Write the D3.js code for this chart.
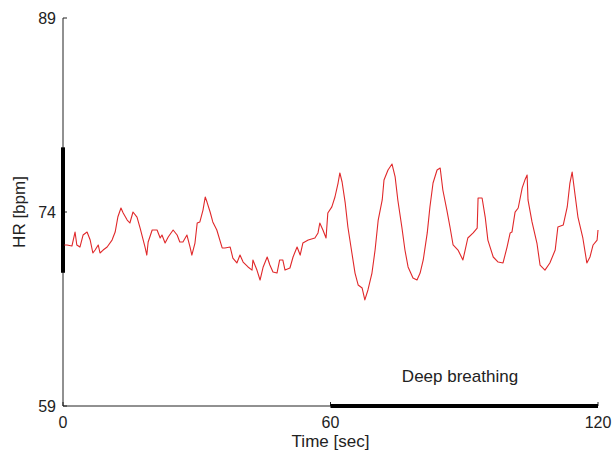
<!DOCTYPE html>
<html>
<head>
<meta charset="utf-8">
<script src="https://cdn.jsdelivr.net/npm/d3@7"></script>
<style>
body { margin: 0; background: #fff; }
text { font-family: "Liberation Sans", Arial, sans-serif; fill: #222; }
</style>
</head>
<body>
<div id="main"></div>
<script>
// heart rate trace (sec, bpm)
var time = [0.3,0.9,2.0,2.7,3.1,3.8,4.5,5.4,6.1,6.7,7.2,7.9,8.3,9.0,9.9,11.0,11.7,12.3,13.0,13.5,
  14.4,15.0,15.7,16.6,17.3,18.4,18.8,19.1,20.0,21.1,21.8,22.2,22.9,23.6,24.7,25.6,26.2,26.9,27.8,28.5,
  28.9,29.6,30.1,30.7,31.4,31.9,32.3,33.0,33.6,34.5,35.7,36.3,37.5,38.1,39.0,39.7,40.4,41.5,42.4,42.6,
  43.5,44.2,44.9,45.8,46.4,47.1,48.0,48.6,49.3,49.8,50.9,51.6,52.5,53.2,53.8,55.0,56.5,57.2,57.6,58.3,
  59.0,59.4,60.3,61.0,61.7,62.1,62.6,63.3,63.9,64.8,65.5,66.2,67.1,67.7,68.4,69.3,70.0,70.7,71.6,72.0,
  72.9,73.8,74.5,75.1,76.0,76.7,77.4,78.5,79.4,80.1,80.8,81.7,82.3,83.0,83.9,84.6,85.2,86.1,86.8,87.5,
  88.6,89.7,90.2,90.8,92.0,92.9,93.1,94.0,94.7,95.3,96.5,97.6,98.7,99.6,100.3,100.7,101.4,102.1,103.0,103.6,
  104.1,104.3,105.2,106.3,107.0,108.1,109.2,110.4,111.0,112.2,113.1,113.7,114.2,114.8,115.5,116.6,117.5,118.2,118.9,119.8,120.0];
var hr = [71.45,71.45,71.37,72.45,71.45,71.29,72.22,72.45,71.83,70.83,71.06,71.45,70.83,71.06,71.29,71.83,72.45,73.61,74.31,73.92,
  73.38,73.15,74.0,73.61,72.76,71.29,70.67,71.68,72.61,72.61,71.99,72.22,71.6,72.07,72.61,72.22,71.68,71.68,72.22,71.29,
  70.67,71.6,73.15,73.23,74.15,75.16,74.77,74.0,73.23,72.61,71.22,71.22,71.29,70.44,70.06,70.67,70.13,69.75,69.51,70.29,
  69.51,68.74,69.75,70.52,69.9,69.36,69.28,70.29,70.29,69.51,69.67,70.52,71.29,70.67,71.6,71.83,71.99,72.38,73.15,72.61,
  71.99,73.92,74.4,75.16,76.24,77.02,76.32,74.7,72.84,70.83,69.28,68.36,68.12,67.2,67.97,69.28,71.06,73.38,74.93,76.47,
  77.25,77.71,76.71,74.93,72.84,71.06,69.75,68.9,68.74,69.28,70.29,72.38,74.39,76.24,77.25,77.4,75.7,74.15,72.84,71.45,
  71.06,70.29,71.06,71.99,72.38,72.76,75.08,75.08,73.61,71.83,70.52,70.13,70.06,71.29,72.38,72.45,73.99,74.31,75.86,76.47,
  76.86,74.93,73.23,71.6,69.9,69.51,70.06,71.06,72.84,72.99,74.39,76.24,77.09,75.47,73.61,71.99,70.06,70.52,71.45,71.83,72.61];

var xTicks = [0, 60, 120];
var yTicks = [59, 74, 89];
var hrBand = [69.3, 79];      // thick bar on y axis
var breathing = [60, 120];    // deep breathing interval

var W = 616, H = 461;
var mLeft = 63, mRight = 598, mTop = 18, mBottom = 406;

var svg = d3.select('#main')
  .append('svg')
  .attr("width", W)
  .attr("height", H);

var x = d3.scaleLinear().domain([0,120]).range([mLeft,mRight]);
var y = d3.scaleLinear().domain([59,89]).range([mBottom,mTop]);

// axes lines
svg.append('line')
  .attr("x1", mLeft).attr("x2", mLeft)
  .attr("y1", mTop).attr("y2", mBottom)
  .style("stroke", "#222").style("stroke-width", 1);
svg.append('line')
  .attr("x1", mLeft).attr("x2", mRight)
  .attr("y1", mBottom).attr("y2", mBottom)
  .style("stroke", "#222").style("stroke-width", 1);

// ticks
svg.selectAll('.yt')
  .data(yTicks)
  .enter()
  .append('line')
  .attr("x1", mLeft).attr("x2", mLeft+4)
  .attr("y1", d=>y(d)).attr("y2", d=>y(d))
  .style("stroke", "#222");
svg.selectAll('.xt')
  .data(xTicks)
  .enter()
  .append('line')
  .attr("x1", d=>x(d)).attr("x2", d=>x(d))
  .attr("y1", mBottom).attr("y2", mBottom-4)
  .style("stroke", "#222");

// tick labels
svg.selectAll('.yl')
  .data(yTicks)
  .enter()
  .append('text')
  .text(d=>d)
  .attr("x", mLeft-7)
  .attr("y", d=>y(d)+6)
  .attr("text-anchor", "end")
  .style("font-size", "16px");
svg.selectAll('.xl')
  .data(xTicks)
  .enter()
  .append('text')
  .text(d=>d)
  .attr("x", d=>x(d))
  .attr("y", mBottom+22)
  .attr("text-anchor", "middle")
  .style("font-size", "16px");

// thick bars
svg.append('line')
  .attr("x1", mLeft).attr("x2", mLeft)
  .attr("y1", y(hrBand[0])).attr("y2", y(hrBand[1]))
  .style("stroke", "#000").style("stroke-width", 4);
svg.append('line')
  .attr("x1", x(breathing[0])).attr("x2", x(breathing[1]))
  .attr("y1", mBottom).attr("y2", mBottom)
  .style("stroke", "#000").style("stroke-width", 4);

// HR trace
var line = d3.line()
  .x((d,i)=>x(time[i]))
  .y(d=>y(d));
svg.append('path')
  .attr("d", line(hr))
  .style("fill", "none")
  .style("stroke", "#e0282a")
  .style("stroke-width", 1.1)
  .style("stroke-linejoin", "round");

// labels
svg.append('text')
  .text("Deep breathing")
  .attr("x", 460)
  .attr("y", 382)
  .attr("text-anchor", "middle")
  .style("font-size", "17px");
svg.append('text')
  .text("Time [sec]")
  .attr("x", x(60))
  .attr("y", mBottom+41)
  .attr("text-anchor", "middle")
  .style("font-size", "17px");
svg.append('text')
  .text("HR [bpm]")
  .attr("transform", "translate(25,"+y(74)+")rotate(-90)")
  .attr("text-anchor", "middle")
  .style("font-size", "17px");
</script>
</body>
</html>
